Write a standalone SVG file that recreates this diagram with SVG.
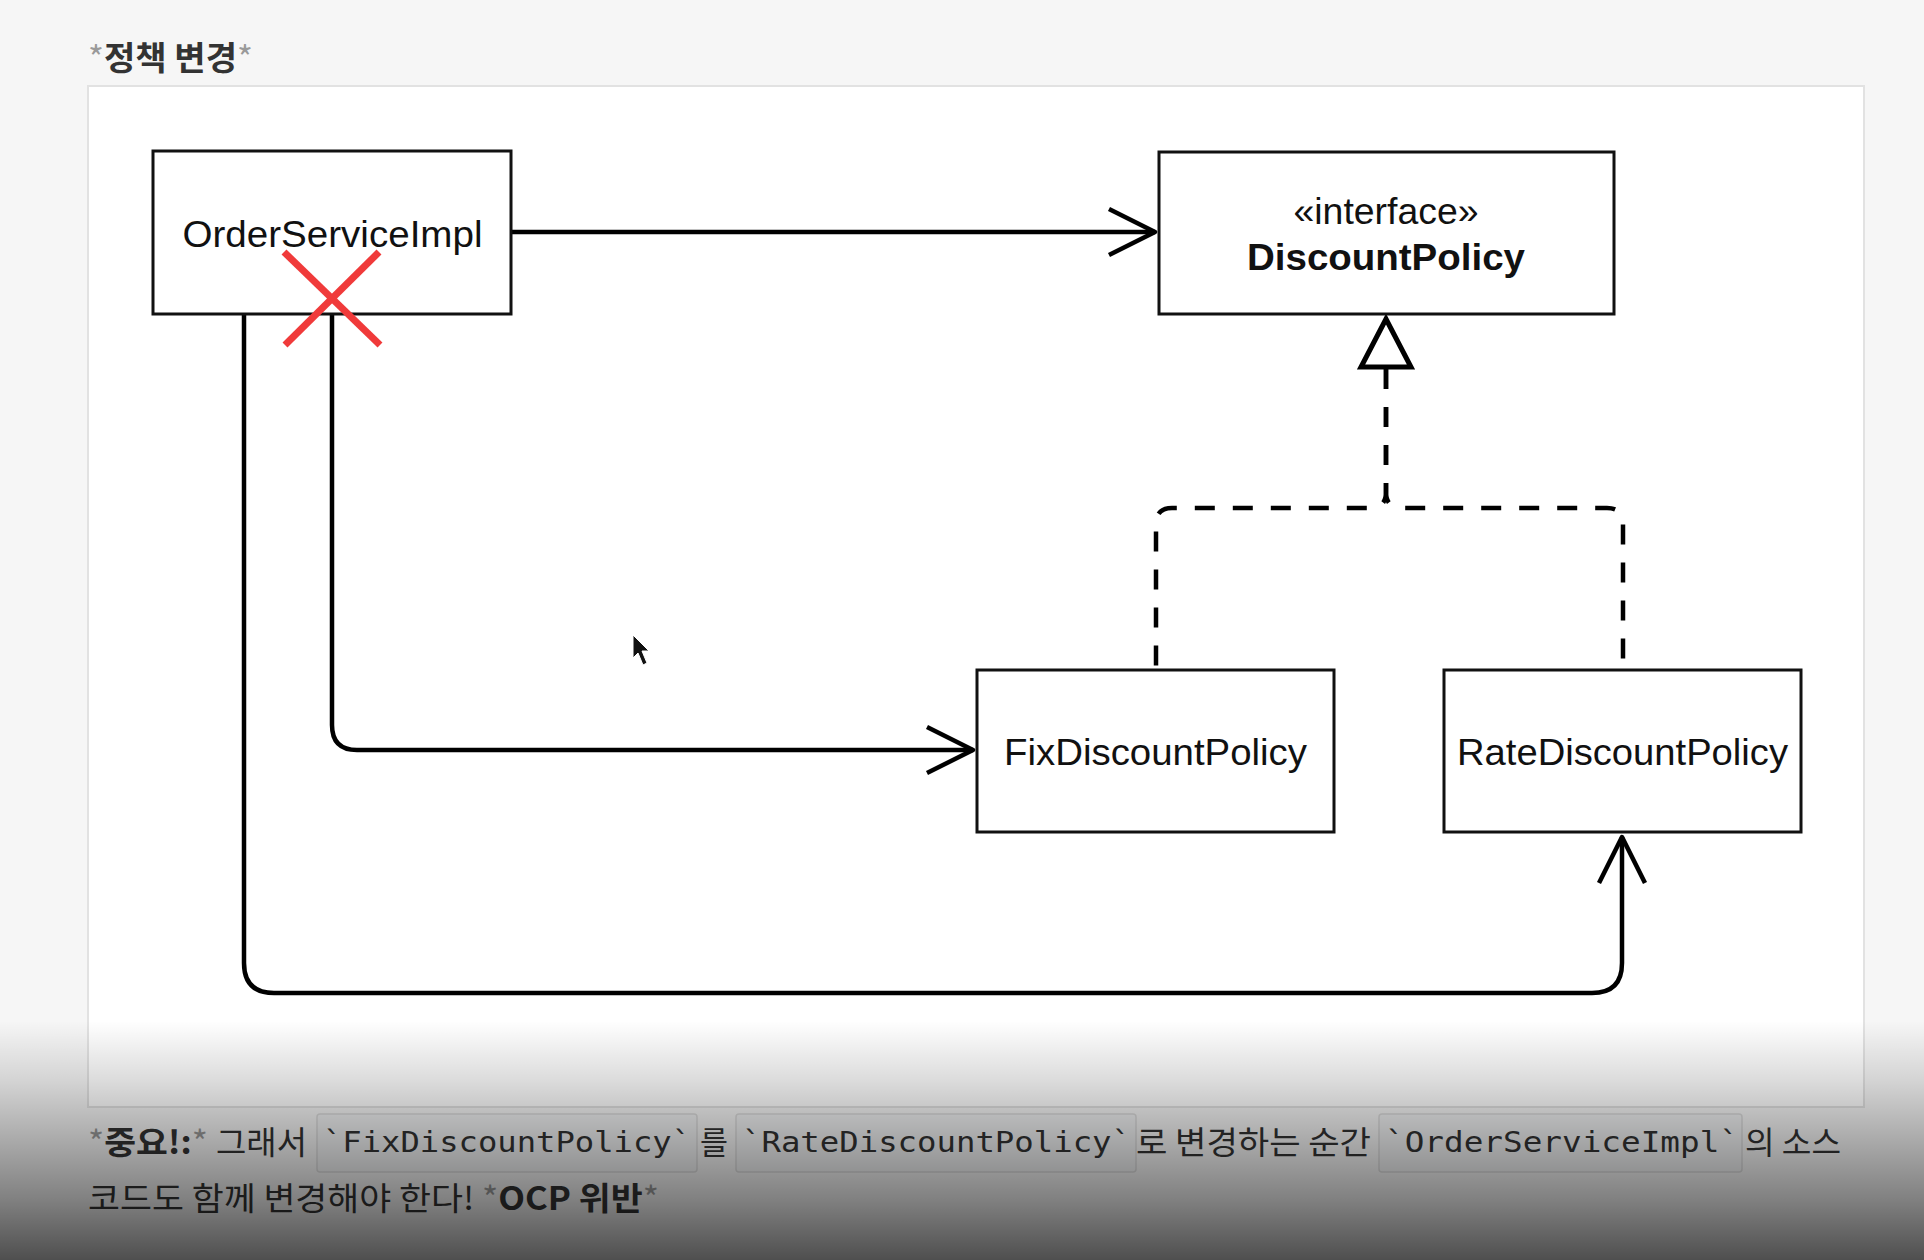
<svg xmlns="http://www.w3.org/2000/svg" width="1924" height="1260" viewBox="0 0 1924 1260">
  <style>
    .box { fill: #ffffff; stroke: #111111; stroke-width: 3; }
    .lbl { font-family: "Liberation Sans", Arial, Helvetica, sans-serif; font-size: 36px; fill: #111111; text-anchor: middle; }
    .bold { font-weight: bold; }
    .conn { fill: none; stroke: #000000; stroke-width: 4.5; stroke-linejoin: round; }
    .dash { fill: none; stroke: #000000; stroke-width: 4.5; stroke-dasharray: 20 18; }
    .kr { font-family: "Noto Sans CJK KR", "Noto Sans", sans-serif; font-size: 32px; fill: #333333; }
    .star { fill: #9a9a9a; font-weight: normal; }
    .code { font-family: "DejaVu Sans Mono", "Liberation Mono", monospace; font-size: 29px; fill: #333333; }
    .codebox { fill: #f2f3f4; stroke: #dcdcdc; stroke-width: 1.5; }
  </style>
  <defs>
    <marker id="open" markerUnits="userSpaceOnUse" markerWidth="60" markerHeight="60" viewBox="-52 -30 60 60" refX="0" refY="0" orient="auto">
      <path d="M-46,-23 L0,0 L-46,23" fill="none" stroke="#000" stroke-width="4.5" stroke-linejoin="round"/>
    </marker>
    <linearGradient id="shade" x1="0" y1="0" x2="0" y2="1">
      <stop offset="0" stop-color="#000" stop-opacity="0"/>
      <stop offset="0.08" stop-color="#000" stop-opacity="0"/>
      <stop offset="0.31" stop-color="#000" stop-opacity="0.14"/>
      <stop offset="0.54" stop-color="#000" stop-opacity="0.31"/>
      <stop offset="0.77" stop-color="#000" stop-opacity="0.48"/>
      <stop offset="1" stop-color="#000" stop-opacity="0.68"/>
    </linearGradient>
  </defs>

  <rect x="0" y="0" width="1924" height="1260" fill="#f6f6f6"/>
  <text id="title" x="88" y="70" class="kr" style="font-weight:bold;font-size:33px" textLength="165" lengthAdjust="spacingAndGlyphs"><tspan class="star">*</tspan>정책 변경<tspan class="star">*</tspan></text>

  <rect id="frame" x="88" y="86" width="1776" height="1021" fill="#ffffff" stroke="#e2e2e2" stroke-width="2"/>

  <g id="connectors">
    <path class="conn" d="M511,232 H1155" marker-end="url(#open)"/>
    <path class="conn" d="M332,314 V725 Q332,750 357,750 H973" marker-end="url(#open)"/>
    <path class="conn" d="M244,314 V963 Q244,993 274,993 H1592 Q1622,993 1622,963 V837" marker-end="url(#open)"/>
    <path class="dash" d="M1386,369 V492 Q1386,508 1370,508 H1172 Q1156,508 1156,524 V670"/>
    <path class="dash" d="M1386,369 V492 Q1386,508 1402,508 H1607 Q1623,508 1623,524 V670"/>
    <polygon points="1386,319 1361,367 1411,367" fill="#ffffff" stroke="#000" stroke-width="5" stroke-linejoin="miter"/>
  </g>

  <g id="node-orderserviceimpl">
    <rect class="box" x="153" y="151" width="358" height="163"/>
    <text class="lbl" x="332.5" y="247" textLength="300" lengthAdjust="spacingAndGlyphs">OrderServiceImpl</text>
  </g>
  <g id="node-discountpolicy">
    <rect class="box" x="1159" y="152" width="455" height="162"/>
    <text class="lbl" x="1386" y="224" textLength="185" lengthAdjust="spacingAndGlyphs">«interface»</text>
    <text class="lbl bold" x="1386" y="270" textLength="278" lengthAdjust="spacingAndGlyphs">DiscountPolicy</text>
  </g>
  <g id="node-fixdiscountpolicy">
    <rect class="box" x="977" y="670" width="357" height="162"/>
    <text class="lbl" x="1155.5" y="765" textLength="303" lengthAdjust="spacingAndGlyphs">FixDiscountPolicy</text>
  </g>
  <g id="node-ratediscountpolicy">
    <rect class="box" x="1444" y="670" width="357" height="162"/>
    <text class="lbl" x="1622.5" y="765" textLength="331" lengthAdjust="spacingAndGlyphs">RateDiscountPolicy</text>
  </g>

  <g id="cross-mark">
    <line x1="284" y1="252" x2="380" y2="345" stroke="#f03a3a" stroke-width="7"/>
    <line x1="379" y1="252" x2="285" y2="345" stroke="#f03a3a" stroke-width="7"/>
  </g>

  <path id="cursor" d="M633,635 L633,658 L638,653 L643,665 L647,663 L642,651 L649,651 Z" fill="#111" stroke="#fff" stroke-width="1"/>

  <g id="note">
    <rect class="codebox" x="317" y="1114" width="380" height="58" rx="3"/>
    <rect class="codebox" x="736" y="1114" width="400" height="58" rx="3"/>
    <rect class="codebox" x="1379" y="1114" width="363" height="58" rx="3"/>
    <text class="kr" x="88" y="1154" textLength="120" lengthAdjust="spacingAndGlyphs"><tspan class="star">*</tspan><tspan font-weight="bold">중요!:</tspan><tspan class="star">*</tspan></text>
    <text class="kr" x="216" y="1154" textLength="91" lengthAdjust="spacingAndGlyphs">그래서</text>
    <text class="code" x="323" y="1152" textLength="368" lengthAdjust="spacingAndGlyphs">`FixDiscountPolicy`</text>
    <text class="kr" x="700" y="1154" textLength="28" lengthAdjust="spacingAndGlyphs">를</text>
    <text class="code" x="742" y="1152" textLength="389" lengthAdjust="spacingAndGlyphs">`RateDiscountPolicy`</text>
    <text class="kr" x="1136" y="1154" textLength="235" lengthAdjust="spacingAndGlyphs">로 변경하는 순간</text>
    <text class="code" x="1385" y="1152" textLength="354" lengthAdjust="spacingAndGlyphs">`OrderServiceImpl`</text>
    <text class="kr" x="1745" y="1154" textLength="96" lengthAdjust="spacingAndGlyphs">의 소스</text>
    <text class="kr" x="88" y="1210" textLength="571" lengthAdjust="spacingAndGlyphs">코드도 함께 변경해야 한다! <tspan class="star">*</tspan><tspan font-weight="bold">OCP 위반</tspan><tspan class="star">*</tspan></text>
  </g>

  <rect x="0" y="1000" width="1924" height="260" fill="url(#shade)" pointer-events="none"/>
</svg>
